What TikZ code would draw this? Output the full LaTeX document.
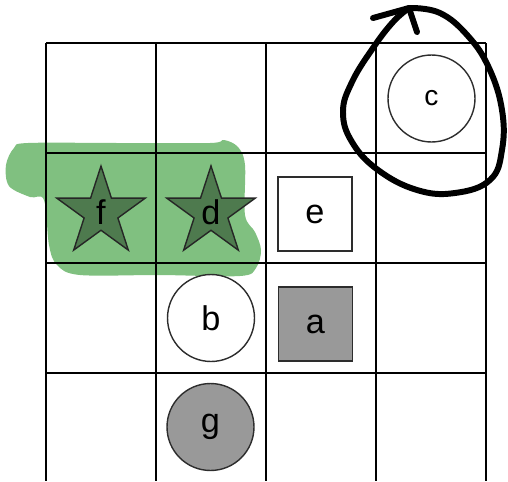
\documentclass[tikz,border=0pt]{standalone}
\usepackage{fontspec}
\setmainfont{Liberation Sans}
\usetikzlibrary{shapes.geometric}
\definecolor{tokengray}{RGB}{153,153,153}
\definecolor{edgegray}{RGB}{45,45,45}
\definecolor{marker}{RGB}{128,192,128}
\definecolor{stargreen}{RGB}{78,122,78}

\begin{document}
\begin{tikzpicture}[x=0.02cm,y=-0.02cm,every node/.style={font=\fontsize{19.5}{22}\selectfont,inner sep=0pt}]
\useasboundingbox (0,0) rectangle (508,481);
% highlighter
\fill[marker] plot[smooth cycle,tension=0.55] coordinates {(28,143) (120,143) (210,143) (224,140) (238,147) (245,165) (245,215) (255,232) (261,250) (256,268) (240,276) (160,275) (80,275) (57,265) (49,245) (44,200) (30,197) (9,186) (6,165) (14,148)};
% board
\foreach \gx in {46,156,266,376,486}
  \draw[black,line width=1.2pt] (\gx,43) -- (\gx,481);
\foreach \gy in {43,153,263,373}
  \draw[black,line width=1.2pt] (46,\gy) -- (486,\gy);
% pieces
\node[circle,draw=edgegray,line width=0.8pt,minimum size=1.74cm,font=\fontsize{16}{19}\selectfont] (c) at (431.5,98.5) {c};
\node[rectangle,draw=edgegray,line width=0.8pt,minimum size=1.48cm,fill=white] (e) at (315,214) {e};
\node[rectangle,draw=edgegray,line width=0.8pt,minimum size=1.48cm,fill=tokengray] (a) at (315.5,324) {a};
\node[circle,draw=edgegray,line width=0.8pt,minimum size=1.74cm,fill=white] (b) at (211,318) {b};
\node[circle,draw=edgegray,line width=0.8pt,minimum size=1.74cm,fill=tokengray] (g) at (210.5,427) {g};
\node[star,star points=5,star point ratio=2.618,minimum size=1.86cm,draw=black!85,line width=0.8pt,fill=stargreen] (f) at (101,212.5) {f};
\node[star,star points=5,star point ratio=2.618,minimum size=1.86cm,draw=black!85,line width=0.8pt,fill=stargreen] (d) at (211,212.5) {d};
% pen stroke round c
\draw[line width=3.4pt,line cap=round,line join=round] plot[smooth,tension=0.7] coordinates {(410,8) (440,13) (468,36) (489,68) (502,110) (502,150) (490,180) (455,193) (417,190) (378,170) (352,142) (343,112) (352,82) (373,48) (393,22) (409,8)};
\draw[line width=3.4pt,line cap=round,line join=round] (373,18) -- (409,8) -- (417,32);
\end{tikzpicture}
\end{document}
